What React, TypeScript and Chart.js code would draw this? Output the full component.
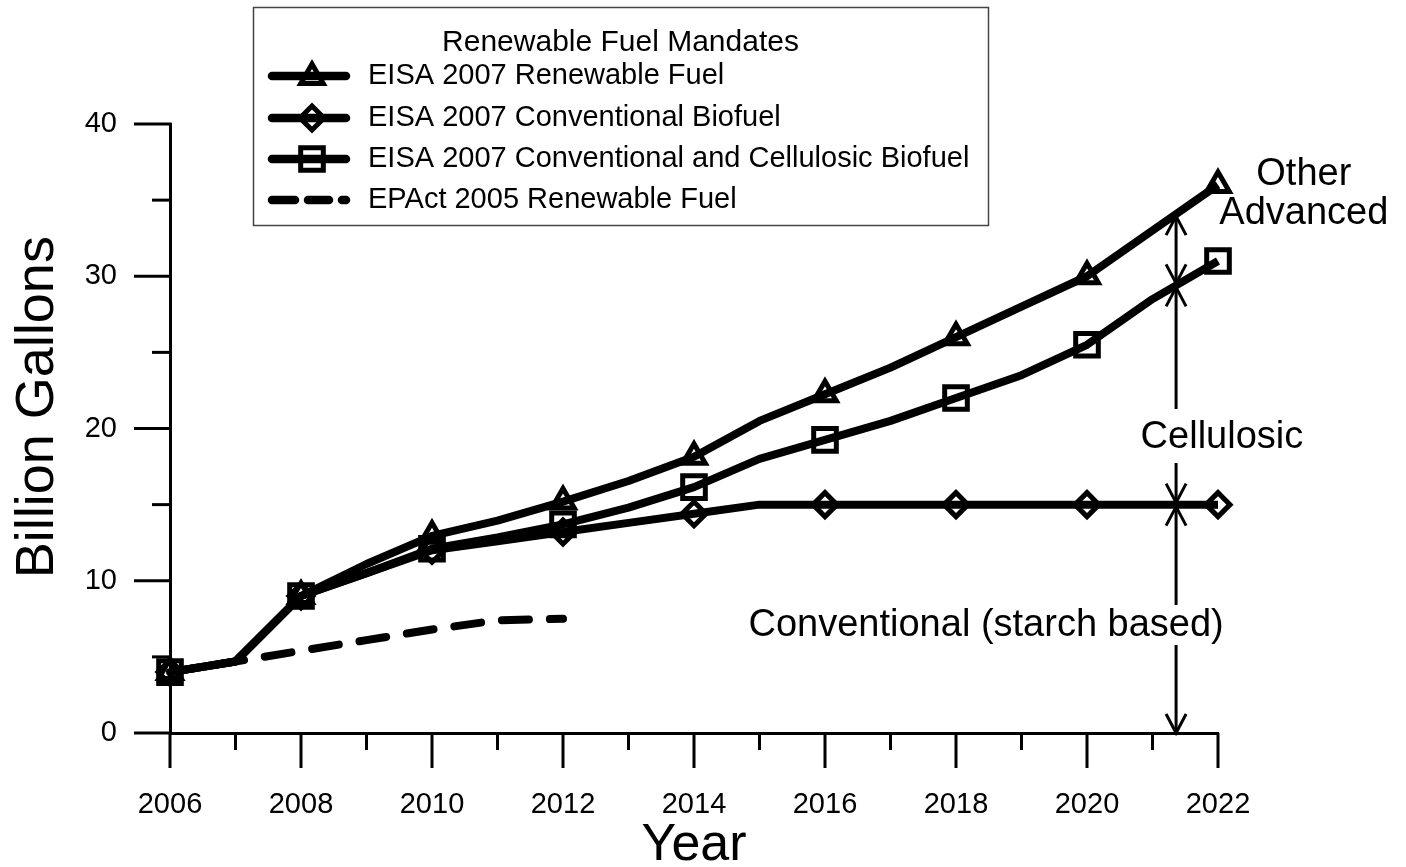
import React, { useEffect, useRef } from 'react';
import { Chart, registerables } from 'chart.js';

Chart.register(...registerables);

const FONT = "'Liberation Sans', Arial, Helvetica, sans-serif";

// ---- data ----
const YEARS = [2006, 2007, 2008, 2009, 2010, 2011, 2012, 2013, 2014, 2015, 2016, 2017, 2018, 2019, 2020, 2021, 2022];
const RENEWABLE = [4.0, 4.7, 9.0, 11.1, 12.95, 13.95, 15.2, 16.55, 18.15, 20.5, 22.25, 24.0, 26.0, 28.0, 30.0, 33.0, 36.0];
const CONVENTIONAL = [4.0, 4.7, 9.0, 10.5, 12.0, 12.6, 13.2, 13.8, 14.4, 15.0, 15.0, 15.0, 15.0, 15.0, 15.0, 15.0, 15.0];
const CONV_CELLULOSIC = [4.0, 4.7, 9.0, 10.5, 12.1, 12.85, 13.7, 14.8, 16.15, 18.0, 19.25, 20.5, 22.0, 23.5, 25.5, 28.5, 31.0];
const EPACT = [4.0, 4.7, 5.4, 6.1, 6.8, 7.4, 7.5, null, null, null, null, null, null, null, null, null, null];

const SERIES_LABELS = [
  'EISA 2007 Renewable Fuel',
  'EISA 2007 Conventional Biofuel',
  'EISA 2007 Conventional and Cellulosic Biofuel',
  'EPAct 2005 Renewable Fuel',
];
const LEGEND_TITLE = 'Renewable Fuel Mandates';
const X_TITLE = 'Year';
const Y_TITLE = 'Billion Gallons';

// annotation anchors (data space)
const ARROW_YEAR = 2021.36;
const NOTE_OTHER = { x: 2023.31, lines: ['Other', 'Advanced'], y: [36.7, 34.1] };
const NOTE_CELL = { x: 2022.06, text: 'Cellulosic', y: 19.38 };
const NOTE_CONV = { x: 2018.46, text: 'Conventional (starch based)', y: 7.09 };
const Y_TITLE_VALUE = 21.4; // centre of the y-axis title, in data units

function valueAt(series: (number | null)[], year: number): number {
  const i = Math.floor(year - YEARS[0]);
  const f = year - YEARS[i];
  const a = series[i] as number;
  const b = series[Math.min(i + 1, series.length - 1)] as number;
  return a + (b - a) * f;
}

const evenRadius = (r: number) => (ctx: any) => (YEARS[ctx.dataIndex] % 2 === 0 ? r : 0);

function drawTri(ctx: CanvasRenderingContext2D, x: number, y: number, r: number) {
  ctx.beginPath();
  ctx.moveTo(x, y - r);
  ctx.lineTo(x + 0.866 * r, y + 0.5 * r);
  ctx.lineTo(x - 0.866 * r, y + 0.5 * r);
  ctx.closePath();
  ctx.stroke();
}
function drawDiamond(ctx: CanvasRenderingContext2D, x: number, y: number, r: number) {
  ctx.beginPath();
  ctx.moveTo(x, y - r);
  ctx.lineTo(x + r, y);
  ctx.lineTo(x, y + r);
  ctx.lineTo(x - r, y);
  ctx.closePath();
  ctx.stroke();
}
function drawSquare(ctx: CanvasRenderingContext2D, x: number, y: number, r: number) {
  const h = r * Math.SQRT1_2;
  ctx.beginPath();
  ctx.rect(x - h, y - h, 2 * h, 2 * h);
  ctx.stroke();
}

function arrowHead(ctx: CanvasRenderingContext2D, x: number, y: number, dir: number) {
  ctx.beginPath();
  ctx.moveTo(x - 10, y - dir * 19);
  ctx.lineTo(x, y);
  ctx.lineTo(x + 10, y - dir * 19);
  ctx.stroke();
}

function drawDoubleArrow(ctx: CanvasRenderingContext2D, x: number, yTop: number, yBot: number, gap?: [number, number]) {
  ctx.beginPath();
  if (gap) {
    ctx.moveTo(x, yTop);
    ctx.lineTo(x, gap[0]);
    ctx.moveTo(x, gap[1]);
    ctx.lineTo(x, yBot);
  } else {
    ctx.moveTo(x, yTop);
    ctx.lineTo(x, yBot);
  }
  ctx.stroke();
  arrowHead(ctx, x, yTop, -1);
  arrowHead(ctx, x, yBot, 1);
}

const overlayPlugin = {
  id: 'overlay',
  afterDraw(chart: any) {
    const ctx: CanvasRenderingContext2D = chart.ctx;
    const xs = chart.scales.x;
    const ys = chart.scales.y;
    const area = chart.chartArea;
    ctx.save();

    // tick marks
    ctx.strokeStyle = '#000';
    ctx.lineWidth = 3;
    ctx.lineCap = 'butt';
    xs.ticks.forEach((t: any) => {
      const px = xs.getPixelForValue(t.value);
      const len = Math.round(t.value) % 2 === 0 ? 35 : 17;
      ctx.beginPath();
      ctx.moveTo(px, area.bottom);
      ctx.lineTo(px, area.bottom + len);
      ctx.stroke();
    });
    ys.ticks.forEach((t: any) => {
      const py = ys.getPixelForValue(t.value);
      const len = Math.round(t.value) % 10 === 0 ? 36 : 18;
      ctx.beginPath();
      ctx.moveTo(area.left + 1.5, py);
      ctx.lineTo(area.left - len, py);
      ctx.stroke();
    });

    // y-axis title
    ctx.fillStyle = '#000';
    ctx.save();
    ctx.translate(38.5, ys.getPixelForValue(Y_TITLE_VALUE));
    ctx.rotate(-Math.PI / 2);
    ctx.font = `54px ${FONT}`;
    ctx.textAlign = 'center';
    ctx.textBaseline = 'middle';
    ctx.fillText(Y_TITLE, 0, 0);
    ctx.restore();

    // arrows
    const ax = xs.getPixelForValue(ARROW_YEAR);
    const yR = ys.getPixelForValue(valueAt(RENEWABLE, ARROW_YEAR));
    const yCC = ys.getPixelForValue(valueAt(CONV_CELLULOSIC, ARROW_YEAR));
    const yC = ys.getPixelForValue(valueAt(CONVENTIONAL, ARROW_YEAR));
    const y0 = ys.getPixelForValue(0);
    const yCellText = ys.getPixelForValue(NOTE_CELL.y);
    const yConvText = ys.getPixelForValue(NOTE_CONV.y);
    ctx.lineWidth = 3;
    ctx.lineJoin = 'miter';
    drawDoubleArrow(ctx, ax, yR + 2, yCC - 2);
    drawDoubleArrow(ctx, ax, yCC + 2, yC - 2, [yCellText - 29, yCellText + 25]);
    drawDoubleArrow(ctx, ax, yC + 2, y0, [yConvText - 20, yConvText + 20]);

    // annotation text
    ctx.font = `38px ${FONT}`;
    ctx.textAlign = 'center';
    ctx.textBaseline = 'middle';
    const ox = xs.getPixelForValue(NOTE_OTHER.x);
    NOTE_OTHER.lines.forEach((s, i) => ctx.fillText(s, ox, ys.getPixelForValue(NOTE_OTHER.y[i])));
    ctx.fillText(NOTE_CELL.text, xs.getPixelForValue(NOTE_CELL.x), yCellText);
    ctx.fillText(NOTE_CONV.text, xs.getPixelForValue(NOTE_CONV.x), yConvText);

    // legend
    const L = { x: 253, y: 7, w: 735, h: 218 };
    ctx.lineWidth = 1.5;
    ctx.strokeStyle = '#444';
    ctx.strokeRect(L.x + 0.5, L.y + 0.5, L.w, L.h);
    ctx.font = `30px ${FONT}`;
    ctx.textAlign = 'center';
    ctx.fillText(LEGEND_TITLE, L.x + L.w / 2, 43);
    ctx.font = `29px ${FONT}`;
    const rows = [76, 118, 159, 200];
    ctx.textAlign = 'left';
    ctx.strokeStyle = '#000';
    rows.forEach((ry, i) => {
      ctx.lineWidth = 8.5;
      ctx.lineCap = 'round';
      ctx.beginPath();
      if (i === 3) {
        ctx.moveTo(272, ry); ctx.lineTo(295, ry);
        ctx.moveTo(308, ry); ctx.lineTo(329, ry);
        ctx.moveTo(342, ry); ctx.lineTo(346, ry);
      } else {
        ctx.moveTo(272, ry); ctx.lineTo(346, ry);
      }
      ctx.stroke();
      ctx.lineCap = 'butt';
      ctx.lineWidth = 5;
      ctx.lineJoin = 'miter';
      if (i === 0) drawTri(ctx, 312, ry + 1, 13);
      if (i === 1) drawDiamond(ctx, 312, ry, 12);
      if (i === 2) drawSquare(ctx, 312, ry, 16);
      ctx.fillText(SERIES_LABELS[i], 368, ry);
    });

    ctx.restore();
  },
};

export default function App() {
  const ref = useRef<HTMLCanvasElement | null>(null);

  useEffect(() => {
    if (!ref.current) return;
    Chart.defaults.font.family = FONT;
    Chart.defaults.color = '#000';
    const common = {
      borderColor: '#000',
      borderWidth: 8,
      pointBorderColor: '#000',
      pointBackgroundColor: 'rgba(0,0,0,0)',
      pointBorderWidth: 5,
      pointHoverRadius: 0,
      tension: 0,
      fill: false,
      clip: false as any,
      borderJoinStyle: 'round' as const,
    };
    const chart = new Chart(ref.current, {
      type: 'line',
      data: {
        labels: YEARS,
        datasets: [
          {
            ...common,
            label: SERIES_LABELS[3],
            data: YEARS.map((x, i) => ({ x, y: EPACT[i] })) as any,
            pointRadius: 0,
            borderDash: [27, 21],
            borderCapStyle: 'round',
            spanGaps: false,
          },
          {
            ...common,
            label: SERIES_LABELS[1],
            data: YEARS.map((x, i) => ({ x, y: CONVENTIONAL[i] })),
            pointStyle: 'rectRot',
            pointRadius: evenRadius(12),
          },
          {
            ...common,
            label: SERIES_LABELS[2],
            data: YEARS.map((x, i) => ({ x, y: CONV_CELLULOSIC[i] })),
            pointStyle: 'rect',
            pointRadius: evenRadius(16),
          },
          {
            ...common,
            label: SERIES_LABELS[0],
            data: YEARS.map((x, i) => ({ x, y: RENEWABLE[i] })),
            pointStyle: 'triangle',
            pointRadius: evenRadius(13),
          },
        ],
      },
      options: {
        responsive: false,
        animation: false,
        events: [],
        layout: { padding: { left: 0, top: 124, right: 188, bottom: 0 } },
        plugins: {
          legend: { display: false },
          tooltip: { enabled: false },
        },
        scales: {
          x: {
            type: 'linear',
            min: 2006,
            max: 2022,
            grid: { display: false },
            border: { display: true, color: '#000', width: 3 },
            ticks: {
              stepSize: 1,
              autoSkip: false,
              maxRotation: 0,
              padding: 47,
              color: '#000',
              font: { size: 29, family: FONT },
              callback: (v: any) => (Math.round(v) % 2 === 0 ? String(v) : ''),
            },
            title: {
              display: true,
              text: X_TITLE,
              color: '#000',
              font: { size: 52, family: FONT, lineHeight: 0.83 },
              padding: { top: 0, bottom: 0 },
            },
            afterFit: (s: any) => { s.height = 134; },
          },
          y: {
            type: 'linear',
            min: 0,
            max: 40,
            grid: { display: false },
            border: { display: true, color: '#000', width: 3 },
            ticks: {
              stepSize: 5,
              padding: 45,
              color: '#000',
              font: { size: 29, family: FONT },
              callback: (v: any) => (Math.round(v) % 10 === 0 ? String(v) : ''),
            },
            title: { display: false, text: Y_TITLE },
            afterFit: (s: any) => { s.width = 170; },
          },
        },
      },
      plugins: [overlayPlugin],
    });
    return () => chart.destroy();
  }, []);

  return (
    <div style={{ position: 'absolute', left: 0, top: 0, width: 1406, height: 867, background: '#fff' }}>
      <canvas ref={ref} width={1406} height={867} style={{ display: 'block' }} />
    </div>
  );
}
